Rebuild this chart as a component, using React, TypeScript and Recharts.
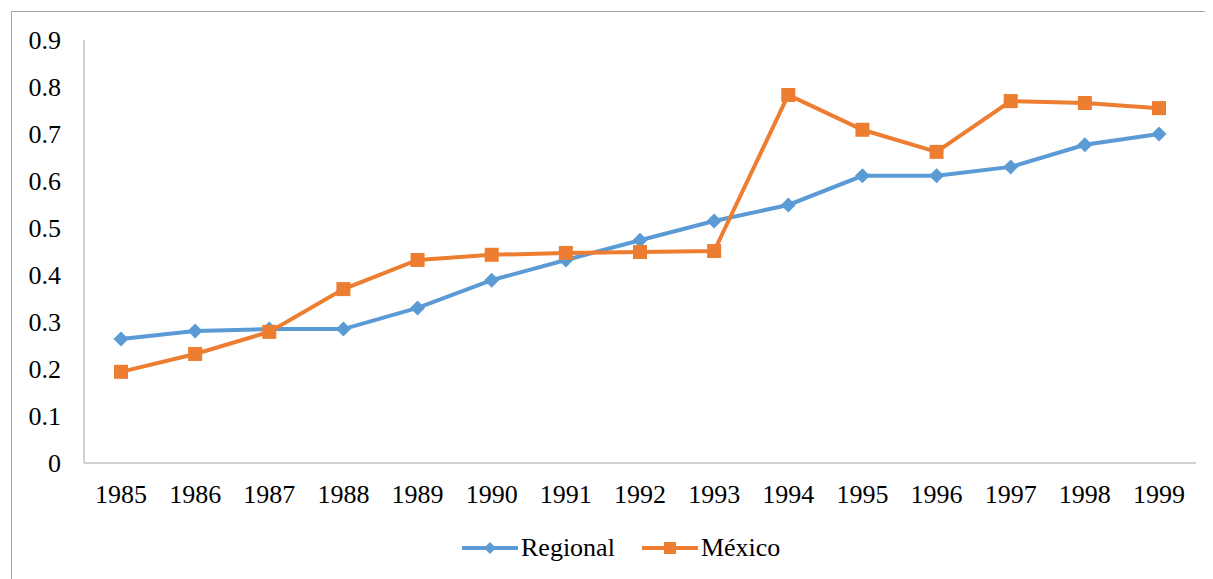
import { LineChart, Line, XAxis, YAxis, Legend } from "recharts";

const years = ["1985", "1986", "1987", "1988", "1989", "1990", "1991", "1992", "1993", "1994", "1995", "1996", "1997", "1998", "1999"];
const regional = [0.264, 0.281, 0.285, 0.285, 0.33, 0.389, 0.432, 0.474, 0.515, 0.549, 0.611, 0.611, 0.63, 0.677, 0.7];
const mexico = [0.194, 0.232, 0.279, 0.37, 0.432, 0.443, 0.447, 0.449, 0.451, 0.783, 0.709, 0.662, 0.77, 0.766, 0.755];
const yTicks = [0, 0.1, 0.2, 0.3, 0.4, 0.5, 0.6, 0.7, 0.8, 0.9];

const BLUE = "#5B9BD5";
const ORANGE = "#ED7D31";
const AXIS = "#a6a6a6";
const FONT = "Liberation Serif";
const FS = 26;

const data = years.map((year, i) => ({ year, regional: regional[i], mexico: mexico[i] }));

const Diamond = ({ cx, cy, fill, size = 7.5 }: any) => {
  if (cx == null || cy == null) return null;
  return (
    <polygon
      points={`${cx},${cy - size} ${cx + size},${cy} ${cx},${cy + size} ${cx - size},${cy}`}
      fill={fill}
    />
  );
};

const Square = ({ cx, cy, fill, size = 7 }: any) => {
  if (cx == null || cy == null) return null;
  return <rect x={cx - size} y={cy - size} width={size * 2} height={size * 2} fill={fill} />;
};

const LegendContent = () => {
  const items = [
    { label: "Regional", color: BLUE, shape: "diamond" },
    { label: "México", color: ORANGE, shape: "square" },
  ];
  return (
    <div style={{ display: "flex", alignItems: "center", fontFamily: FONT, fontSize: FS, color: "#000", lineHeight: "30px" }}>
      {items.map((it, i) => (
        <div key={it.label} style={{ display: "flex", alignItems: "center", marginRight: i === 0 ? 27 : 0 }}>
          <svg width={56} height={16} style={{ marginRight: 3 }}>
            <line x1={1} y1={8} x2={55} y2={8} stroke={it.color} strokeWidth={4} strokeLinecap="round" />
            {it.shape === "diamond" ? (
              <Diamond cx={28} cy={8} fill={it.color} size={6} />
            ) : (
              <Square cx={28} cy={8} fill={it.color} size={6} />
            )}
          </svg>
          <span>{it.label}</span>
        </div>
      ))}
    </div>
  );
};

export default function App() {
  return (
    <div style={{ position: "relative", width: 1205, height: 571, fontFamily: FONT }}>
      <div
        style={{
          position: "absolute",
          left: 3,
          top: 3,
          width: 1202,
          height: 568,
          borderTop: `1px solid ${AXIS}`,
          borderLeft: `1px solid ${AXIS}`,
          boxSizing: "border-box",
        }}
      />
      <LineChart
        width={1205}
        height={571}
        data={data}
        margin={{ top: 32, right: 17, bottom: 0, left: 0 }}
        style={{ position: "absolute", left: 0, top: 0 }}
      >
        <XAxis
          dataKey="year"
          padding={{ left: 37, right: 37 }}
          axisLine={{ stroke: AXIS, strokeWidth: 1 }}
          tickLine={false}
          tickSize={6}
          tickMargin={16}
          height={86}
          interval={0}
          tick={{ fill: "#000", fontSize: FS, fontFamily: FONT }}
        />
        <YAxis
          domain={[0, 0.9]}
          ticks={yTicks}
          width={76}
          axisLine={{ stroke: AXIS, strokeWidth: 1 }}
          tickLine={false}
          tickSize={6}
          tickMargin={17}
          interval={0}
          tickFormatter={(v: number) => (v === 0 ? "0" : v.toFixed(1))}
          tick={{ fill: "#000", fontSize: FS, fontFamily: FONT }}
        />
        <Legend
          content={<LegendContent />}
          wrapperStyle={{ position: "absolute", left: 454, top: 525, width: "auto", height: "auto" }}
        />
        <Line
          dataKey="regional"
          name="Regional"
          stroke={BLUE}
          strokeWidth={4}
          dot={(p: any) => <Diamond key={`r-${p.index}`} cx={p.cx} cy={p.cy} fill={BLUE} />}
          activeDot={false}
          isAnimationActive={false}
        />
        <Line
          dataKey="mexico"
          name="México"
          stroke={ORANGE}
          strokeWidth={4}
          dot={(p: any) => <Square key={`m-${p.index}`} cx={p.cx} cy={p.cy} fill={ORANGE} />}
          activeDot={false}
          isAnimationActive={false}
        />
      </LineChart>
    </div>
  );
}
